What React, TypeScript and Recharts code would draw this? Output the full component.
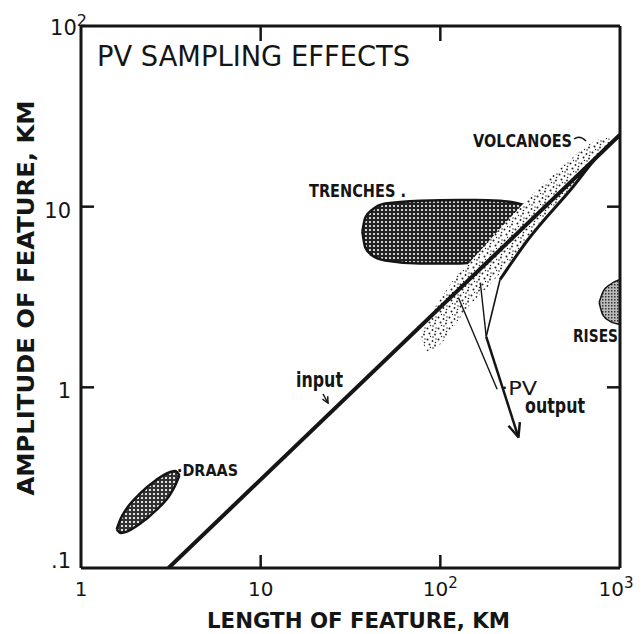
import React from 'react';
import { ComposedChart, Area, Line, Scatter, XAxis, YAxis } from 'recharts';

// ---------- axis ticks ----------
const xTicks = [1, 10, 100, 1000];
const xTickLabels: [string, string][] = [['1', ''], ['10', ''], ['10', '2'], ['10', '3']];
const yTicks = [0.1, 1, 10, 100];
const yTickLabels: [string, string][] = [['.1', ''], ['1', ''], ['10', ''], ['10', '2']];
// inward tick marks on the frame (decade positions)
const bottomMarksX = [10, 100];
const topMarksX = [10, 100];
const leftMarksY = [1, 10];
const rightMarksY = [1, 10];

// ---------- lines ----------
const inputX = [3.07, 1000];
const inputY = [0.1, 25];

const pvMainX = [215, 308, 548, 746, 1000];
const pvMainY = [3.95, 6.58, 12.9, 18.9, 25];

const pvThinAX = [180, 215];
const pvThinAY = [1.91, 3.95];

const pvThinBX = [167, 180];
const pvThinBY = [3.8, 1.91];

const pvThinCX = [126, 207];
const pvThinCY = [3.14, 0.975];

const pvArrowX = [180, 271];
const pvArrowY = [1.91, 0.536];

// ---------- shaded regions (x, lower, upper) ----------
const draasX = [1.58, 1.66, 1.77, 2.12, 2.62, 3.14, 3.35, 3.53];
const draasLo = [0.164, 0.156, 0.158, 0.175, 0.209, 0.256, 0.287, 0.326];
const draasHi = [0.164, 0.187, 0.209, 0.257, 0.307, 0.34, 0.344, 0.326];

const trenchX = [36.8, 38.2, 41.8, 49.4, 77.3, 129, 156, 215, 261, 304];
const trenchLo = [7.27, 5.94, 5.36, 5.03, 4.84, 4.84, 4.97, 6.92, 8.81, 10.1];
const trenchHi = [7.27, 8.69, 9.62, 10.4, 10.8, 10.9, 10.9, 10.8, 10.5, 10.1];

const risesX = [765, 805, 881, 1000];
const risesLo = [2.95, 2.5, 2.32, 2.23];
const risesHi = [2.95, 3.39, 3.71, 3.95];

const volcX = [77.3, 85.7, 99.9, 121, 147, 189, 245, 316, 409, 528, 682, 826, 904];
const volcLo = [1.96, 1.58, 1.73, 2.23, 2.87, 3.71, 4.97, 7.0, 9.62, 12.7, 17.1, 20.6, 23.5];
const volcHi = [1.96, 2.44, 3.06, 4.05, 4.97, 6.57, 8.69, 11.4, 14.5, 18.2, 22.3, 24.1, 23.5];

const zipXY = (xs: number[], ys: number[]) => xs.map((x, i) => ({ x, y: ys[i] }));
const zipRange = (xs: number[], lo: number[], hi: number[]) =>
  xs.map((x, i) => ({ x, r: [lo[i], hi[i]] }));

const FONT = '"DejaVu Sans", "Liberation Sans", sans-serif';
const INK = '#151515';

const W = 633;
const H = 626;
const TICK = 13;

const BottomTick = (p: any) => {
  const { x, y, index } = p;
  const lab = xTickLabels[index] || ['', ''];
  const shift = index === 3 ? -4 : 0;
  return (
    <text x={x + shift} y={y + 28} textAnchor="middle" fontSize={20} fontFamily={FONT} fill={INK}>
      {lab[0]}
      {lab[1] && (
        <tspan dy={-8} fontSize={15}>
          {lab[1]}
        </tspan>
      )}
    </text>
  );
};

const LeftTick = (p: any) => {
  const { x, y, index } = p;
  const lab = yTickLabels[index] || ['', ''];
  const dy = index === 0 ? 0 : index === 3 ? 9 : 11;
  const dx = index === 3 ? 6 : -10;
  return (
    <text x={x + dx} y={y + dy} textAnchor="end" fontSize={21} fontFamily={FONT} fill={INK}>
      {lab[0]}
      {lab[1] && (
        <tspan dy={-9} fontSize={16}>
          {lab[1]}
        </tspan>
      )}
    </text>
  );
};

const mark = (dx: number, dy: number) => (p: any) => (
  <line x1={p.cx} y1={p.cy} x2={p.cx + dx} y2={p.cy + dy} stroke={INK} strokeWidth={2.5} />
);

export default function App() {
  const axisLine = { stroke: INK, strokeWidth: 3 };
  return (
    <div style={{ position: 'relative', width: W, height: H, background: '#fff' }}>
      <svg width={0} height={0} style={{ position: 'absolute' }}>
        <defs>
          <pattern id="hatchDark" width="4" height="4" patternUnits="userSpaceOnUse">
            <rect width="4" height="4" fill="#222" />
            <rect x="1" y="1" width="2" height="2" fill="#cfcfcf" />
          </pattern>
          <pattern id="hatchDraas" width="4" height="4" patternUnits="userSpaceOnUse">
            <rect width="4" height="4" fill="#333" />
            <rect x="1" y="1" width="2" height="2" fill="#e0e0e0" />
          </pattern>
          <pattern id="dotsRises" width="3" height="3" patternUnits="userSpaceOnUse">
            <rect width="3" height="3" fill="#bbb" />
            <rect x="0" y="0" width="1.5" height="1.5" fill="#333" />
          </pattern>
          <pattern id="stipple" width="11" height="11" patternUnits="userSpaceOnUse">
            <rect width="11" height="11" fill="#fff" />
            <circle cx="1.5" cy="1.5" r="1" fill="#222" />
            <circle cx="6.5" cy="3" r="0.9" fill="#222" />
            <circle cx="3.5" cy="6.5" r="1" fill="#222" />
            <circle cx="9" cy="7.5" r="0.9" fill="#222" />
            <circle cx="7" cy="10" r="0.8" fill="#222" />
            <circle cx="10" cy="1" r="0.7" fill="#222" />
            <circle cx="4.5" cy="9.5" r="0.7" fill="#222" />
            <circle cx="9.5" cy="4.5" r="0.8" fill="#222" />
          </pattern>
          <marker id="arrowHead" viewBox="0 0 16 16" refX="14" refY="8" markerWidth="16" markerHeight="16"
            markerUnits="userSpaceOnUse" orient="auto">
            <path d="M1,2 L15,8 L1,14" fill="none" stroke={INK} strokeWidth={2.5} />
          </marker>
          <marker id="smallHead" viewBox="0 0 8 8" refX="7" refY="4" markerWidth="8" markerHeight="8"
            markerUnits="userSpaceOnUse" orient="auto">
            <path d="M1,1 L7,4 L1,7" fill="none" stroke={INK} strokeWidth={1.5} />
          </marker>
        </defs>
      </svg>
      <ComposedChart width={W} height={H} margin={{ top: 17, right: 20, bottom: 65, left: 72 }}>
        <XAxis
          dataKey="x"
          type="number"
          scale="log"
          domain={[1, 1000]}
          ticks={xTicks}
          interval={0}
          allowDataOverflow
          height={1}
          tickSize={0}
          tickMargin={0}
          tickLine={false}
          axisLine={axisLine}
          tick={(p: any) => <BottomTick {...p} />}
        />
        <XAxis
          xAxisId="top"
          orientation="top"
          dataKey="x"
          type="number"
          scale="log"
          domain={[1, 1000]}
          allowDataOverflow
          height={1}
          tickLine={false}
          axisLine={axisLine}
          tick={false}
        />
        <YAxis
          type="number"
          scale="log"
          domain={[0.1, 100]}
          ticks={yTicks}
          interval={0}
          allowDataOverflow
          width={1}
          tickSize={0}
          tickMargin={0}
          tickLine={false}
          axisLine={axisLine}
          tick={(p: any) => <LeftTick {...p} />}
        />
        <YAxis
          yAxisId="right"
          orientation="right"
          type="number"
          scale="log"
          domain={[0.1, 100]}
          allowDataOverflow
          width={1}
          tickLine={false}
          axisLine={axisLine}
          tick={false}
        />

        <Area data={zipRange(trenchX, trenchLo, trenchHi)} dataKey="r" type="monotone"
          fill="url(#hatchDark)" fillOpacity={1} stroke={INK} strokeWidth={2.5} isAnimationActive={false}
          dot={false} activeDot={false} />
        <Area data={zipRange(draasX, draasLo, draasHi)} dataKey="r" type="monotone"
          fill="url(#hatchDraas)" fillOpacity={1} stroke={INK} strokeWidth={2.5} isAnimationActive={false}
          dot={false} activeDot={false} />
        <Area data={zipRange(risesX, risesLo, risesHi)} dataKey="r" type="monotone"
          fill="url(#dotsRises)" fillOpacity={1} stroke={INK} strokeWidth={1.5} isAnimationActive={false}
          dot={false} activeDot={false} />
        <Area data={zipRange(volcX, volcLo, volcHi)} dataKey="r" type="monotone"
          fill="url(#stipple)" fillOpacity={1} stroke="none" isAnimationActive={false}
          dot={false} activeDot={false} />

        <Line data={zipXY(inputX, inputY)} dataKey="y" type="linear" stroke={INK} strokeWidth={4}
          dot={false} activeDot={false} isAnimationActive={false} />
        <Line data={zipXY(inputX, inputY)} dataKey="y" xAxisId="top" yAxisId="right" type="linear"
          stroke="none" dot={false} activeDot={false} isAnimationActive={false} />
        <Line data={zipXY(pvMainX, pvMainY)} dataKey="y" type="monotone" stroke={INK} strokeWidth={3}
          dot={false} activeDot={false} isAnimationActive={false} />
        <Line data={zipXY(pvThinAX, pvThinAY)} dataKey="y" type="linear" stroke={INK} strokeWidth={1.6}
          dot={false} activeDot={false} isAnimationActive={false} />
        <Line data={zipXY(pvThinBX, pvThinBY)} dataKey="y" type="linear" stroke={INK} strokeWidth={1.4}
          dot={false} activeDot={false} isAnimationActive={false} />
        <Line data={zipXY(pvThinCX, pvThinCY)} dataKey="y" type="linear" stroke={INK} strokeWidth={1.4}
          dot={false} activeDot={false} isAnimationActive={false} />
        <Line data={zipXY(pvArrowX, pvArrowY)} dataKey="y" type="linear" stroke={INK} strokeWidth={2.5}
          markerEnd="url(#arrowHead)" dot={false} activeDot={false} isAnimationActive={false} />

        <Scatter data={bottomMarksX.map((x) => ({ x, y: 0.1 }))} dataKey="y" isAnimationActive={false}
          shape={mark(0, -TICK)} />
        <Scatter data={topMarksX.map((x) => ({ x, y: 100 }))} dataKey="y" isAnimationActive={false}
          shape={mark(0, TICK + 2)} />
        <Scatter data={leftMarksY.map((y) => ({ x: 1, y }))} dataKey="y" isAnimationActive={false}
          shape={mark(TICK, 0)} />
        <Scatter data={rightMarksY.map((y) => ({ x: 1000, y }))} dataKey="y" isAnimationActive={false}
          shape={mark(-TICK, 0)} />
      </ComposedChart>

      <svg width={W} height={H} style={{ position: 'absolute', left: 0, top: 0, pointerEvents: 'none' }}>
        <g fontFamily={FONT} fill={INK}>
          <text x={89} y={58} fontSize={29} textLength={313} lengthAdjust="spacingAndGlyphs">
            PV SAMPLING  EFFECTS
          </text>
          <text x={301} y={189} fontSize={18} fontWeight="bold" textLength={97} lengthAdjust="spacingAndGlyphs">
            TRENCHES .
          </text>
          <text x={465} y={139} fontSize={18} fontWeight="bold" textLength={99} lengthAdjust="spacingAndGlyphs">
            VOLCANOES
          </text>
          <text x={169} y={468} fontSize={15} fontWeight="bold" textLength={61} lengthAdjust="spacingAndGlyphs">
            ·DRAAS
          </text>
          <text x={565} y={334} fontSize={18} fontWeight="bold" textLength={45} lengthAdjust="spacingAndGlyphs">
            RISES
          </text>
          <text x={288} y={379} fontSize={21} fontWeight="bold" textLength={47} lengthAdjust="spacingAndGlyphs">
            input
          </text>
          <text x={493} y={387} fontSize={19} textLength={36} lengthAdjust="spacingAndGlyphs">
            ·PV
          </text>
          <text x={517} y={405} fontSize={21} fontWeight="bold" textLength={60} lengthAdjust="spacingAndGlyphs">
            output
          </text>
          <text x={199} y={620} fontSize={22} fontWeight="bold" textLength={303} lengthAdjust="spacingAndGlyphs">
            LENGTH OF FEATURE, KM
          </text>
          <text transform="translate(26,290) rotate(-90)" textAnchor="middle" fontSize={23} fontWeight="bold"
            textLength={395} lengthAdjust="spacingAndGlyphs">
            AMPLITUDE OF FEATURE, KM
          </text>
        </g>
        <path d="M566,131 C570,128 574,129 578,133" fill="none" stroke={INK} strokeWidth={1.5} />
        <path d="M315,386 L320,395" fill="none" stroke={INK} strokeWidth={1.5} markerEnd="url(#smallHead)" />
      </svg>
    </div>
  );
}
